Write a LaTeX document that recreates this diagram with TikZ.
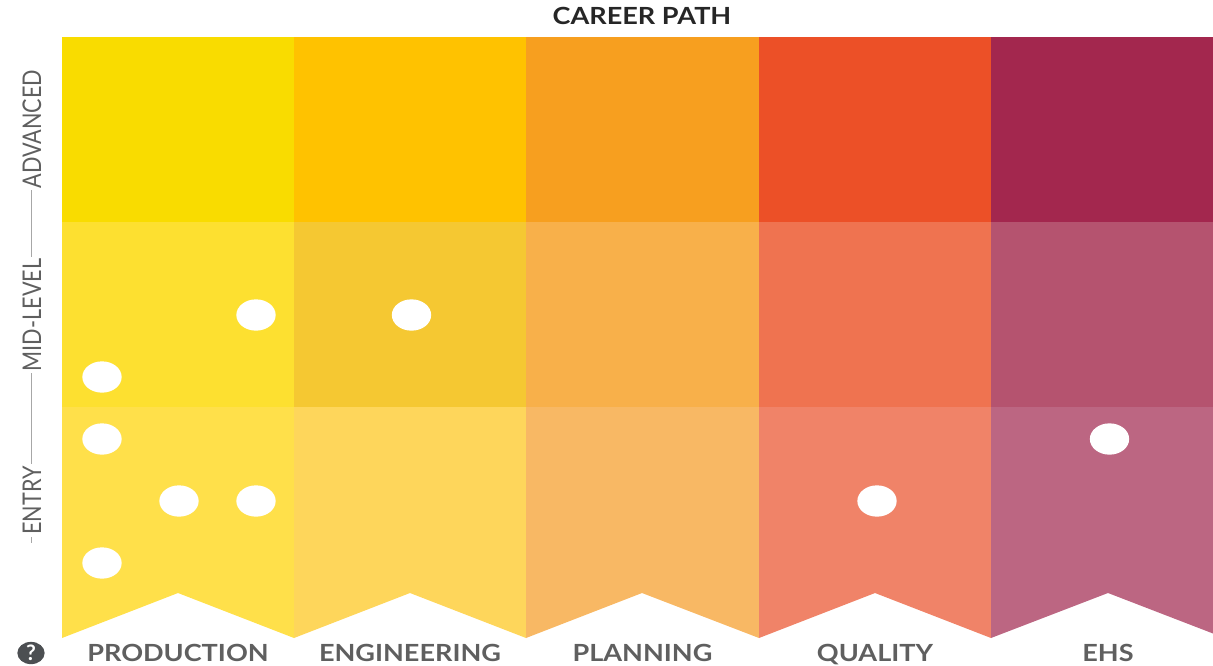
\documentclass[tikz,border=0pt]{standalone}
\usepackage{fontspec}
\setmainfont{Lato}
\definecolor{aa}{HTML}{F9DC00}\definecolor{ab}{HTML}{FFC200}\definecolor{ac}{HTML}{F79F1F}\definecolor{ad}{HTML}{EC5027}\definecolor{ae}{HTML}{A3274E}
\definecolor{ba}{HTML}{FDE030}\definecolor{bb}{HTML}{F5C832}\definecolor{bc}{HTML}{F8B04A}\definecolor{bd}{HTML}{EF7350}\definecolor{be}{HTML}{B5536F}
\definecolor{ca}{HTML}{FFE04A}\definecolor{cb}{HTML}{FED65B}\definecolor{cc}{HTML}{F8B864}\definecolor{cd}{HTML}{F08368}\definecolor{ce}{HTML}{BC6682}
\definecolor{lab}{HTML}{5F5F5F}
\definecolor{helpgray}{HTML}{4C4F52}
\usetikzlibrary{shapes.geometric}
\newcommand{\widetxt}[1]{\scalebox{1.18}[1.03]{#1}}
\newcommand{\slimtxt}[1]{\scalebox{0.84}[1]{#1}}
\tikzset{
  px/.style={x=0.75pt,y=-0.75pt},
  dot/.style={fill=white,draw=none,ellipse,minimum width=29.5pt,minimum height=23.5pt,inner sep=0pt},
  collabel/.style={text=lab,font=\fontsize{17.2pt}{19pt}\selectfont\bfseries,anchor=base,inner sep=0pt},
  rowlabel/.style={text=lab,font=\fontsize{19.3pt}{21pt}\selectfont,rotate=90,inner sep=0pt},
  tick/.style={draw=lab!55,line width=0.6pt}
}
\begin{document}
\begin{tikzpicture}[px]
\useasboundingbox (0,0) rectangle (1213,665);
% top row
\fill[aa] (62,37) rectangle (294,222);
\fill[ab] (294,37) rectangle (526,222);
\fill[ac] (526,37) rectangle (759,222);
\fill[ad] (759,37) rectangle (991,222);
\fill[ae] (991,37) rectangle (1213,222);
% middle row
\fill[ba] (62,222) rectangle (294,407);
\fill[bb] (294,222) rectangle (526,407);
\fill[bc] (526,222) rectangle (759,407);
\fill[bd] (759,222) rectangle (991,407);
\fill[be] (991,222) rectangle (1213,407);
% bottom row with chevrons
\fill[ca] (62,407) -- (294,407) -- (294,638) -- (178,593) -- (62,638) -- cycle;
\fill[cb] (294,407) -- (526,407) -- (526,638) -- (410,593) -- (294,638) -- cycle;
\fill[cc] (526,407) -- (759,407) -- (759,638) -- (642,593) -- (526,638) -- cycle;
\fill[cd] (759,407) -- (991,407) -- (991,638) -- (875,593) -- (759,638) -- cycle;
\fill[ce] (991,407) -- (1213,407) -- (1213,633.5) -- (1108,593) -- (991,638) -- cycle;
% dots
\node[dot] (d1) at (256,315) {};
\node[dot] (d2) at (411.5,315) {};
\node[dot] (d3) at (102,377) {};
\node[dot] (d4) at (102,439) {};
\node[dot] (d5) at (179,501) {};
\node[dot] (d6) at (256,501) {};
\node[dot] (d7) at (102,563) {};
\node[dot] (d8) at (877,501) {};
\node[dot] (d9) at (1109.5,439) {};
% labels
\node[font=\fontsize{17.2pt}{19pt}\selectfont\bfseries,text=black!85,anchor=base,inner sep=0pt] (title) at (642,24) {\widetxt{CAREER PATH}};
\node[collabel] (c1) at (178,661) {\widetxt{PRODUCTION}};
\node[collabel] (c2) at (410,661) {\widetxt{ENGINEERING}};
\node[collabel] (c3) at (642.5,661) {\widetxt{PLANNING}};
\node[collabel] (c4) at (875,661) {\widetxt{QUALITY}};
\node[collabel] (c5) at (1108,661) {\widetxt{EHS}};
\node[rowlabel] (r1) at (32,129) {\slimtxt{ADVANCED}};
\node[rowlabel] (r2) at (32,315) {\slimtxt{MID-LEVEL}};
\node[rowlabel] (r3) at (32,500.5) {\slimtxt{ENTRY}};
\coordinate (e) at (31,543);
\draw[tick] (31,190) -- (31,257);
\draw[tick] (31,373) -- (31,464);
\draw[tick] (31,537) -- (e);
% help icon
\node[ellipse,fill=helpgray,inner sep=0pt,minimum width=20.5pt,minimum height=16pt,text=white,font=\fontsize{16pt}{16pt}\selectfont\bfseries] (q) at (31,653) {?};
\end{tikzpicture}
\end{document}
